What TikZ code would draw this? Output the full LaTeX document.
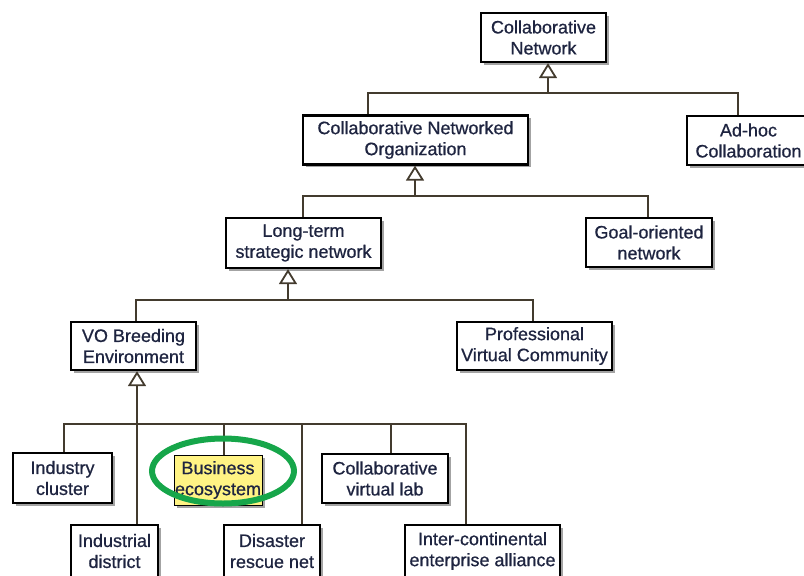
\documentclass[tikz,border=0pt]{standalone}
\usepackage{fontspec}
\setmainfont{Liberation Sans}[FakeBold=0.7]
\usetikzlibrary{arrows.meta,positioning,shadows,shapes.geometric}
\definecolor{cline}{HTML}{433B2E}
\definecolor{ctext}{HTML}{1E2440}
\definecolor{cshade}{HTML}{A3A3A3}
\definecolor{cyell}{HTML}{FFF384}
\definecolor{cgreen}{HTML}{16A64A}
\tikzset{
  cls/.style={draw=black,line width=2.3pt,fill=white,align=center,
    font=\fontsize{18}{21}\selectfont,text=ctext,inner sep=0pt,
    minimum height=49pt,
    drop shadow={shadow xshift=2.5pt,shadow yshift=-2.5pt,fill=cshade,opacity=1}},
  link/.style={draw=cline,line width=2pt},
  gen/.style={link,-{Triangle[open,length=15pt,width=18pt,line width=1.8pt]}},
}

\begin{document}
\begin{tikzpicture}[x=1pt,y=-1pt]
      \useasboundingbox (0,0) rectangle (804,576);
      \clip (0,0) rectangle (804,576);
      % classes
      \node[cls,minimum width=125pt] (cn) at (543.5,37.5) {Collaborative\\Network};
      \node[cls,minimum width=225pt] (cno) at (415.5,140) {Collaborative Networked\\Organization};
      \node[cls,minimum width=123pt] (adhoc) at (748.5,140.5) {Ad-hoc\\Collaboration};
      \node[cls,minimum width=155pt,minimum height=50pt] (lts) at (303.5,243) {Long-term\\strategic network};
      \node[cls,minimum width=126pt] (goal) at (649,242.5) {Goal-oriented\\network};
      \node[cls,minimum width=125pt,minimum height=48pt] (vbe) at (133.5,346) {VO Breeding\\Environment};
      \node[cls,minimum width=155pt,minimum height=48pt] (pvc) at (534.5,346) {Professional\\Virtual Community};
      \node[cls,minimum width=99pt,minimum height=50pt] (indc) at (62.5,478) {Industry\\cluster};
      \node[cls,minimum width=88pt,minimum height=50pt,fill=cyell,line width=1pt] (bes) at (218,480) {Business\\ecosystem};
      \node[cls,minimum width=126pt] (cvl) at (385,478.5) {Collaborative\\virtual lab};
      \node[cls,minimum width=87pt,minimum height=52pt] (indd) at (114.5,551) {Industrial\\district};
      \node[cls,minimum width=96pt,minimum height=52pt] (drn) at (272,551) {Disaster\\rescue net};
      \node[cls,minimum width=155pt,minimum height=52pt] (ica) at (482.5,551) {Inter-continental\\enterprise alliance};

      % level 1
      \coordinate (j1) at (548,93);
      \coordinate (d1a) at (368,93);
      \coordinate (d1b) at (738,93);
      \draw[link] (d1a |- cno.north) -- (d1a) -- (d1b) -- (d1b |- adhoc.north);
      \draw[gen] (j1) -- (j1 |- cn.south);
      % level 2
      \coordinate (j2) at (415,196);
      \coordinate (d2a) at (303,196);
      \coordinate (d2b) at (648,196);
      \draw[link] (d2a |- lts.north) -- (d2a) -- (d2b) -- (d2b |- goal.north);
      \draw[gen] (j2) -- (j2 |- cno.south);
      % level 3
      \coordinate (j3) at (288,300);
      \coordinate (d3a) at (136,300);
      \coordinate (d3b) at (533,300);
      \draw[link] (d3a |- vbe.north) -- (d3a) -- (d3b) -- (d3b |- pvc.north);
      \draw[gen] (j3) -- (j3 |- lts.south);
      % level 4
      \coordinate (j4) at (137,424);
      \coordinate (d4a) at (64,424);
      \coordinate (d4b) at (224,424);
      \coordinate (d4c) at (302,424);
      \coordinate (d4d) at (391,424);
      \coordinate (d4e) at (466,424);
      \draw[link] (d4a |- indc.north) -- (d4a) -- (d4e) -- (d4e |- ica.north);
      \draw[link] (d4b) -- (d4b |- bes.north);
      \draw[link] (d4c) -- (d4c |- drn.north);
      \draw[link] (d4d) -- (d4d |- cvl.north);
      \draw[gen] (j4 |- indd.north) -- (j4 |- vbe.south);

      % highlight
      \node[draw=cgreen,line width=6pt,ellipse,minimum width=142pt,minimum height=65pt] (ring) at (223,471) {};
    \end{tikzpicture}
\end{document}
